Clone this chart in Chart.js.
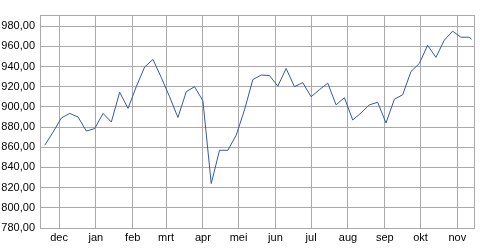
<!DOCTYPE html>
<html>
<head>
<meta charset="utf-8">
<script src="https://cdn.jsdelivr.net/npm/chart.js@4"></script>
<style>
body{margin:0;background:#fff}
#wrap{width:480px;height:250px;position:relative}
</style>
</head>
<body>
<div id="wrap"><canvas id="chart"></canvas></div>
<script>
// weekly closes
const dates = [
  '2006-11-19','2006-11-26','2006-12-03','2006-12-10','2006-12-17','2006-12-24','2006-12-31',
  '2007-01-07','2007-01-14','2007-01-21','2007-01-28','2007-02-04','2007-02-11','2007-02-18','2007-02-25',
  '2007-03-04','2007-03-11','2007-03-18','2007-03-25','2007-04-01','2007-04-08','2007-04-15','2007-04-22','2007-04-29',
  '2007-05-06','2007-05-13','2007-05-20','2007-05-27','2007-06-03','2007-06-10','2007-06-17','2007-06-24',
  '2007-07-01','2007-07-08','2007-07-15','2007-07-22','2007-07-29','2007-08-05','2007-08-12','2007-08-19','2007-08-26',
  '2007-09-02','2007-09-09','2007-09-16','2007-09-23','2007-09-30','2007-10-07','2007-10-14','2007-10-21','2007-10-28',
  '2007-11-04','2007-11-11','2007-11-13'
];
const prices = [
  862, 875, 889, 893.5, 890, 876, 878.5, 893.5, 885, 914.5,
  898.5, 920, 939.5, 947, 929, 910, 889.5, 915, 920, 906,
  824, 857, 857, 872, 897, 927, 931.5, 931, 920.5, 938,
  920, 924, 910, 917, 923.5, 902, 909, 887, 894, 902,
  904.5, 884, 907.5, 912, 935, 943, 961, 949, 966, 975,
  969, 969, 967
];
const monthStarts = ['2006-12-01','2007-01-01','2007-02-01','2007-03-01','2007-04-01','2007-05-01',
  '2007-06-01','2007-07-01','2007-08-01','2007-09-01','2007-10-01','2007-11-01'];
const monthNames = ['dec','jan','feb','mrt','apr','mei','jun','jul','aug','sep','okt','nov'];
const yTicks = [780, 800, 820, 840, 860, 880, 900, 920, 940, 960, 980];
const axisStart = '2006-11-15';
const axisEnd = '2007-11-15';
const yMin = 780, yMax = 991;

const gridColor = '#a9a9a9';

function dayOf(s){
    return (Date.parse(s) - Date.parse(axisStart)) / 86400000;
}

const monthDays = monthStarts.map(dayOf);
const xEnd = dayOf(axisEnd);

const ctx = document.getElementById('chart').getContext('2d');
new Chart(ctx, {
    type: 'line',
    data: {
        datasets: [{
            data: dates.map((d, i) => ({x: dayOf(d), y: prices[i]})),
            borderColor: '#3558a8',
            borderWidth: 1,
            pointRadius: 0,
            tension: 0,
            fill: false
        }]
    },
    options: {
        responsive: true,
        maintainAspectRatio: false,
        animation: false,
        layout: {padding: {top: 15, right: 6, left: 0, bottom: 0}},
        plugins: {legend: {display: false}, tooltip: {enabled: false}},
        scales: {
            x: {
                type: 'linear',
                min: 0,
                max: xEnd,
                afterBuildTicks: s => { s.ticks = [0, ...monthDays, xEnd].map(v => ({value: v})); },
                afterFit: s => { s.height = 22; },
                grid: {color: gridColor, drawTicks: false, lineWidth: 1},
                border: {display: true, color: gridColor},
                ticks: {
                    autoSkip: false,
                    maxRotation: 0,
                    padding: 3,
                    color: '#000',
                    font: {family: 'Liberation Sans', size: 11},
                    callback: v => {
                        const i = monthDays.indexOf(v);
                        return i >= 0 ? monthNames[i] : '';
                    }
                }
            },
            y: {
                min: yMin,
                max: yMax,
                afterBuildTicks: s => { s.ticks = [...yTicks, yMax].map(v => ({value: v})); },
                afterFit: s => { s.width = 40; },
                grid: {color: gridColor, drawTicks: false, lineWidth: 1},
                border: {display: true, color: gridColor},
                ticks: {
                    padding: 5,
                    color: '#000',
                    font: {family: 'Liberation Sans', size: 11},
                    callback: v => yTicks.includes(v) ? v.toFixed(2).replace('.', ',') : ''
                }
            }
        }
    }
});
</script>
</body>
</html>
